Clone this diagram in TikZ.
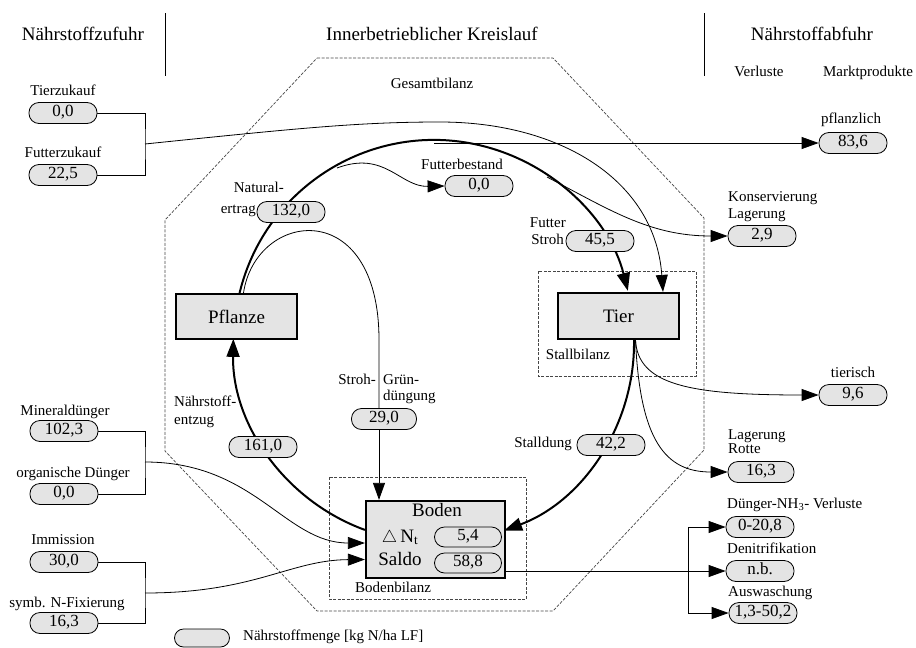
\documentclass[tikz,border=0pt]{standalone}
\usepackage{fontspec}
\setmainfont{Liberation Serif}
\usetikzlibrary{arrows.meta}
\definecolor{capfill}{RGB}{228,228,228}
\definecolor{dashgray}{RGB}{70,70,70}
\newcommand\myhdr{\fontsize{19}{22}\selectfont}
\newcommand\mylbl{\fontsize{15}{18}\selectfont}
\newcommand\myval{\fontsize{17}{20}\selectfont}
\pgfdeclarelayer{bg}
\pgfsetlayers{bg,main}
\tikzset{
  lbl/.style={font=\mylbl, inner sep=0pt, text height=0.68em, text depth=0.2em},
  hdr/.style={font=\myhdr, inner sep=0pt, text height=0.68em, text depth=0.2em},
  capsule/.style={draw, fill=capfill, rounded corners=10pt, minimum width=68pt, minimum height=21pt, inner sep=1pt, line width=0.8pt, font=\myval, text height=0.68em, text depth=0.05em},
  bigbox/.style={draw, fill=capfill, line width=2.2pt, minimum width=121pt, minimum height=45pt, font=\myhdr, inner sep=0pt},
  ln/.style={line width=0.8pt},
  arr/.style={ln, -{Triangle[length=17pt,width=12pt]}},
  kreis/.style={line width=2pt, -{Triangle[length=18pt,width=13pt]}},
  bil/.style={draw=dashgray, dash pattern=on 3pt off 1.5pt, line width=0.7pt},
}
\begin{document}
\begin{tikzpicture}[x=1pt,y=-1pt]
\useasboundingbox (0,0) rectangle (916,648);

% headers
\node[hdr] (h1) at (83,38) {Nährstoffzufuhr};
\node[hdr] (h2) at (432,38) {Innerbetrieblicher Kreislauf};
\node[hdr] (h3) at (812,38) {Nährstoffabfuhr};
\node[lbl] (hv) at (759,74) {Verluste};
\node[lbl] (hm) at (868,74) {Marktprodukte};
\draw[ln] (165,13) -- (165,76);
\draw[ln] (704,13) -- (704,76);

% main boxes
\node[bigbox] (pfl) at (236.5,316.5) {Pflanze};
\node[bigbox, minimum height=46pt] (tier) at (618.5,316) {Tier};
\node[bigbox, minimum width=139pt, minimum height=77pt] (boden) at (435.5,539.5) {};
\node[hdr] (bt) at (437,514) {Boden};
\node[hdr] (bn) at (400,540) {$\triangle$\,N\textsubscript{t}};
\node[hdr] (bs) at (400,563) {Saldo};
\node[capsule, minimum width=67pt, minimum height=20pt] (b1) at (468,537) {5,4};
\node[capsule, minimum width=67pt, minimum height=20pt] (b2) at (468,563) {58,8};

\node[lbl] (gb) at (432,86) {Gesamtbilanz};
\node[lbl] (sb) at (578,357) {Stallbilanz};
\node[lbl] (bb) at (393,590) {Bodenbilanz};

% left inputs
\node[capsule] (t1) at (63,113) {0,0};
\node[lbl] at (63,93) {Tierzukauf};
\node[capsule] (t2) at (63,175) {22,5};
\node[lbl] at (63,155) {Futterzukauf};
\coordinate (j1) at (145,144);
\node[capsule] (m1) at (64,431) {102,3};
\node[lbl] at (65,413) {Mineraldünger};
\node[capsule] (m2) at (64,494) {0,0};
\node[lbl] at (73,475) {organische Dünger};
\coordinate (j2) at (145,462);
\node[capsule] (i1) at (64,562) {30,0};
\node[lbl] at (63,542) {Immission};
\node[capsule] (i2) at (64,623) {16,3};
\node[lbl] at (67,605) {symb. N-Fixierung};
\coordinate (j3) at (145,593);

% circle capsules
\node[capsule] (ne1) at (291,212) {132,0};
\node[lbl, anchor=east] at (284,190) {Natural-};
\node[lbl, anchor=east] at (256,211) {ertrag};
\node[capsule] (fb) at (479,186) {0,0};
\node[lbl] at (462,167) {Futterbestand};
\node[capsule] (fs) at (600,241) {45,5};
\node[lbl, anchor=east] at (566,225) {Futter};
\node[lbl, anchor=east] at (564,242) {Stroh};
\node[capsule] (st) at (611,445) {42,2};
\node[lbl, anchor=east] at (572,445) {Stalldung};
\node[capsule] (ne) at (263,447) {161,0};
\node[lbl, anchor=west] at (174,404) {Nährstoff-};
\node[lbl, anchor=west] at (174,422) {entzug};
\node[capsule, minimum width=65pt] (sg) at (384,419) {29,0};
\node[lbl, anchor=east] at (376,382) {Stroh-};
\node[lbl, anchor=west] at (383,382) {Grün-};
\node[lbl, anchor=west] at (383,398) {düngung};

% right outputs
\node[capsule] (pf) at (853,143) {83,6};
\node[lbl] at (851,121) {pflanzlich};
\node[capsule] (ko) at (762,236) {2,9};
\node[lbl, anchor=west] at (728,199) {Konservierung};
\node[lbl, anchor=west] at (728,216) {Lagerung};
\node[capsule] (ti) at (853,395) {9,6};
\node[lbl] at (853,375) {tierisch};
\node[capsule, minimum width=66pt] (lr) at (761,472) {16,3};
\node[lbl, anchor=west] at (728,437) {Lagerung};
\node[lbl, anchor=west] at (728,451) {Rotte};
\node[capsule] (dn) at (760,527) {0-20,8};
\node[lbl, anchor=west] at (727,506) {Dünger-NH\textsubscript{3}- Verluste};
\node[capsule] (de) at (760,571) {n.b.};
\node[lbl, anchor=west] at (727,551) {Denitrifikation};
\node[capsule] (au) at (763,613) {1,3-50,2};
\node[lbl, anchor=west] at (728,594) {Auswaschung};
\coordinate (vt) at (688,527);
\coordinate (vb) at (688,613);

% legend
\node[capsule, minimum width=55pt, minimum height=18pt, rounded corners=9pt] (leg) at (202,638) {};
\node[lbl, anchor=west] at (243,638) {Nährstoffmenge [kg N/ha LF]};

% points on the circle
\coordinate (top) at (434,143);
\coordinate (fbs) at (337,168);
\coordinate (kos) at (547,177);
\coordinate (sgx) at (379,0);

\begin{pgfonlayer}{bg}
  % balance frames
  \draw[bil] (317,58) -- (553,58) -- (704,218) -- (704,450) -- (553,611) -- (317,611) -- (165,451) -- (165,220) -- cycle;
  \draw[bil] (538,271) rectangle (696,376);
  \draw[bil] (329,477) rectangle (526,599);

  % brackets
  \draw[ln] (t1.east) -| (j1) |- (t2.east);
  \draw[ln] (m1.east) -| (j2) |- (m2.east);
  \draw[ln] (i1.east) -| (j3) |- (i2.east);

  % Kreislauf
  \draw[kreis] ([xshift=3.1pt]pfl.north) arc[start angle=193.6, end angle=345.8, radius=200];
  \draw[kreis] ([xshift=15.5pt]tier.south) arc[start angle=-0.9, end angle=69.5, radius=200];
  \draw[kreis] ([yshift=9.6pt]boden.west) arc[start angle=110, end angle=180.9, radius=200];

  % inputs
  \draw[arr] (j1) .. controls (300,128) and (360,122) .. (440,122) .. controls (560,122) and (655,180) .. ([xshift=44.5pt]tier.north);
  \draw[arr] (j2) .. controls (255,462) and (285,543) .. ([yshift=-3.5pt]boden.west);
  \draw[arr] (j3) .. controls (255,593) and (290,560) .. ([yshift=-20pt]boden.west);

  % internal
  \draw[arr] (fbs) .. controls (385,150) and (400,187) .. (fb.west);
  \draw[ln] ([xshift=7pt]pfl.north) .. controls (256,210) and (379,195) .. (379,340) -- (sg.north -| sgx);
  \draw[arr] (sg.south -| sgx) -- (boden.north -| sgx);

  % outputs
  \draw[arr] (top) -- (pf.west);
  \draw[arr] (kos) .. controls (610,210) and (650,236) .. (ko.west);
  \draw[arr] ([xshift=17pt]tier.south) .. controls (638,385) and (690,395) .. (ti.west);
  \draw[arr] ([xshift=17pt]tier.south) .. controls (640,440) and (665,472) .. (lr.west);
  \draw[arr] ([yshift=-31.5pt]boden.east) -- (de.west);
  \draw[ln] (vt) -- (vb);
  \draw[arr] (vt) -- (dn.west);
  \draw[arr] (vb) -- (au.west);
\end{pgfonlayer}
\end{tikzpicture}
\end{document}
